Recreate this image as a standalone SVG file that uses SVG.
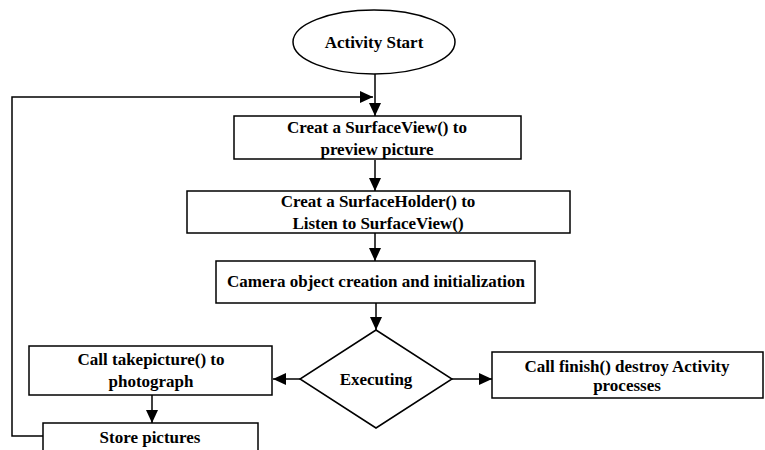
<svg xmlns="http://www.w3.org/2000/svg" width="765" height="450" viewBox="0 0 765 450">
<style>
.n{fill:#fff;stroke:#000;stroke-width:1.5}
.t{font-family:"Liberation Serif","Times New Roman",serif;font-weight:bold;font-size:17px;text-anchor:middle;fill:#000}
.c{fill:none;stroke:#000;stroke-width:1.5}
</style>
<defs>
<marker id="a" markerWidth="13" markerHeight="12" refX="13" refY="6" orient="auto" markerUnits="userSpaceOnUse" viewBox="0 0 13 12">
<path d="M0,0 L13,6 L0,12 z" fill="#000"/>
</marker>
</defs>
<rect width="765" height="450" fill="#fff"/>
<g id="connectors">
<line class="c" x1="375" y1="74" x2="375" y2="116" marker-end="url(#a)"/>
<polyline class="c" points="43,436 12,436 12,97 373,97" marker-end="url(#a)"/>
<line class="c" x1="375" y1="160" x2="375" y2="191" marker-end="url(#a)"/>
<line class="c" x1="375" y1="233" x2="375" y2="261" marker-end="url(#a)"/>
<line class="c" x1="376" y1="303" x2="376" y2="330" marker-end="url(#a)"/>
<line class="c" x1="300" y1="379" x2="273" y2="379" marker-end="url(#a)"/>
<line class="c" x1="452" y1="379" x2="492" y2="379" marker-end="url(#a)"/>
<line class="c" x1="152" y1="395" x2="152" y2="423" marker-end="url(#a)"/>
</g>
<g id="start">
<ellipse class="n" cx="374" cy="42" rx="81" ry="32"/>
<text class="t" x="374" y="48" font-size="18">Activity Start</text>
</g>
<g id="surfaceview">
<rect class="n" x="234" y="116" width="287" height="43"/>
<text class="t" x="377" y="133">Creat a SurfaceView() to</text>
<text class="t" x="377" y="155">preview picture</text>
</g>
<g id="surfaceholder">
<rect class="n" x="187" y="191" width="383" height="42"/>
<text class="t" x="378" y="207">Creat a SurfaceHolder() to</text>
<text class="t" x="378" y="229">Listen to SurfaceView()</text>
</g>
<g id="camera">
<rect class="n" x="216" y="261" width="319" height="42"/>
<text class="t" x="376" y="287">Camera object creation and initialization</text>
</g>
<g id="executing">
<polygon class="n" points="376,330 452,379 376,428 300,379"/>
<text class="t" x="376" y="385">Executing</text>
</g>
<g id="finish">
<rect class="n" x="492" y="352" width="271" height="46"/>
<text class="t" x="627" y="372">Call finish() destroy Activity</text>
<text class="t" x="627" y="391">processes</text>
</g>
<g id="takepicture">
<rect class="n" x="29" y="346" width="243" height="49"/>
<text class="t" x="151" y="365">Call takepicture() to</text>
<text class="t" x="151" y="387">photograph</text>
</g>
<g id="store">
<rect class="n" x="43" y="423" width="215" height="30"/>
<text class="t" x="150" y="443">Store pictures</text>
</g>
</svg>
